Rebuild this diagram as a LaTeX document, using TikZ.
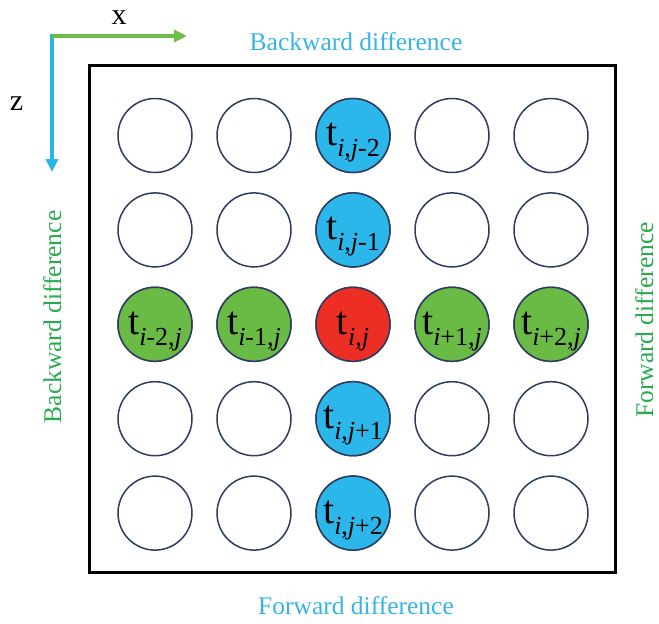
\documentclass[tikz,border=0pt]{standalone}
\usepackage{fontspec}
\setmainfont{Liberation Serif}
\usetikzlibrary{arrows.meta}

\definecolor{cellblue}{RGB}{44,183,234}
\definecolor{cellgreen}{RGB}{106,186,70}
\definecolor{cellred}{RGB}{236,46,36}
\definecolor{celledge}{RGB}{45,60,95}
\definecolor{textblue}{RGB}{56,180,228}
\definecolor{textgreen}{RGB}{40,170,78}
\definecolor{axisgreen}{RGB}{108,190,72}
\definecolor{axisblue}{RGB}{40,180,232}

% t with an italic index pair set as a lowered subscript
\newcommand\gridlabel[1]{{\fontsize{40}{40}\selectfont t}\raisebox{-11pt}{\fontsize{26}{26}\selectfont #1}}

\begin{document}
\begin{tikzpicture}[x=1pt,y=-1pt,
  dot/.style={circle,draw=celledge,line width=1.5pt,minimum size=74pt,inner sep=0pt,fill=white},
  bluedot/.style={dot,fill=cellblue},
  greendot/.style={dot,fill=cellgreen},
  reddot/.style={dot,fill=cellred},
  tlab/.style={anchor=base,inner sep=0pt},
  caption/.style={font=\fontsize{25.5}{25.5}\selectfont,inner sep=0pt,anchor=base},
  axislabel/.style={font=\fontsize{30}{30}\selectfont,inner sep=0pt,anchor=base},
  axis/.style={line width=3.5pt,-{Triangle[length=13pt,width=12pt]}},
  frame/.style={draw=black,line width=3pt}]
\useasboundingbox (0,0) rectangle (659,624);

% outer frame
\node[frame,minimum width=526pt,minimum height=507pt,inner sep=0pt] (box) at (352,318.5) {};

% axes
\coordinate (origin) at (52,36);
\coordinate (ztop) at (52,34.2);
\coordinate (xtip) at (187,36);
\coordinate (ztip) at (52,172);
\draw[axis,axisblue] (ztop) -- (ztip);
\draw[axis,axisgreen] (origin) -- (xtip);
\node[axislabel] (xlab) at (119,24) {x};
\node[axislabel] (zlab) at (16.5,110) {z};

% 5x5 grid of cells
\foreach \c in {1,...,5}{
  \foreach \r in {1,...,5}{
    \node[dot] (n-\c-\r) at ({155+99*(\c-1)},{135.5+94.4*(\r-1)}) {};
  }
}
% coloured stencil cells
\node[bluedot]  at (n-3-1) {};
\node[bluedot]  at (n-3-2) {};
\node[bluedot]  at (n-3-4) {};
\node[bluedot]  at (n-3-5) {};
\node[greendot] at (n-1-3) {};
\node[greendot] at (n-2-3) {};
\node[greendot] at (n-4-3) {};
\node[greendot] at (n-5-3) {};
\node[reddot]   at (n-3-3) {};

% cell labels
\tikzset{lab/.style={tlab,yshift=-10pt}}
\node[lab] (l-3-1) at (n-3-1.center) {\gridlabel{\textit{i},\textit{j}-2}};
\node[lab] (l-3-2) at (n-3-2.center) {\gridlabel{\textit{i},\textit{j}-1}};
\node[lab] (l-3-4) at (n-3-4.center) {\gridlabel{\textit{i},\textit{j}+1}};
\node[lab] (l-3-5) at (n-3-5.center) {\gridlabel{\textit{i},\textit{j}+2}};
\node[lab] (l-1-3) at (n-1-3.center) {\gridlabel{\textit{i}-2,\textit{j}}};
\node[lab] (l-2-3) at (n-2-3.center) {\gridlabel{\textit{i}-1,\textit{j}}};
\node[lab] (l-3-3) at (n-3-3.center) {\gridlabel{\textit{i},\textit{j}}};
\node[lab] (l-4-3) at (n-4-3.center) {\gridlabel{\textit{i}+1,\textit{j}}};
\node[lab] (l-5-3) at (n-5-3.center) {\gridlabel{\textit{i}+2,\textit{j}}};

% difference direction captions
\node[caption,textblue] (top) at (356,50) {Backward difference};
\node[caption,textblue] (bottom) at (356,614) {Forward difference};
\node[caption,textgreen,rotate=90] (left) at (61,317) {Backward difference};
\node[caption,textgreen,rotate=90] (right) at (653,320) {Forward difference};
\end{tikzpicture}
\end{document}
